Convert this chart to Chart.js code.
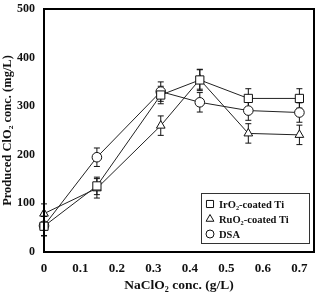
<!DOCTYPE html>
<html>
<head>
<meta charset="utf-8">
<script src="https://cdn.jsdelivr.net/npm/chart.js@4"></script>
<style>
  html, body { margin: 0; padding: 0; background: #fff; }
  #wrap { width: 323px; height: 294px; }
</style>
</head>
<body>
<div id="wrap"><canvas id="chart"></canvas></div>
<script>
// NaClO2 concentration (g/L)
let concs = [0, 0.145, 0.32, 0.427, 0.56, 0.70];

// Produced ClO2 (mg/L) for each electrode
let iro2 = [53, 136, 323, 354, 316, 316];
let ruo2 = [79, 131, 260, 355, 244, 241];
let dsa = [54, 195, 330, 308, 291, 287];

// error bar half-lengths
let iro2Err = [20, 18, 18, 22, 20, 20];
let ruo2Err = [20, 20, 20, 20, 20, 20];
let dsaErr = [20, 19, 20, 20, 20, 20];

let xTicks = [0, 0.1, 0.2, 0.3, 0.4, 0.5, 0.6, 0.7];
let yTicks = [0, 100, 200, 300, 400, 500];

let seriesNames = ['IrO\u2082-coated Ti', 'RuO\u2082-coated Ti', 'DSA'];

const FONT = '"Liberation Serif", "Times New Roman", serif';

function series(label, values, errs, style, radius, legendRadius) {
    return {
        label: label,
        data: values.map((v, i) => ({ x: concs[i], y: v })),
        errors: errs,
        legendRadius: legendRadius,
        borderColor: '#222',
        borderWidth: 1,
        pointStyle: style,
        pointRadius: radius,
        pointBackgroundColor: '#fff',
        pointBorderColor: '#111',
        pointBorderWidth: 1,
        showLine: true,
        clip: false,
        tension: 0
    };
}

// draw vertical error bars with caps
const errorBars = {
    id: 'errorBars',
    beforeDatasetsDraw(chart) {
        const ctx = chart.ctx;
        const y = chart.scales.y;
        ctx.save();
        ctx.strokeStyle = '#111';
        ctx.lineWidth = 1;
        chart.data.datasets.forEach((ds, di) => {
            chart.getDatasetMeta(di).data.forEach((pt, i) => {
                const v = ds.data[i].y, e = ds.errors[i];
                const top = y.getPixelForValue(v + e);
                const bot = y.getPixelForValue(v - e);
                ctx.beginPath();
                ctx.moveTo(pt.x, top); ctx.lineTo(pt.x, bot);
                ctx.moveTo(pt.x - 3, top); ctx.lineTo(pt.x + 3, top);
                ctx.moveTo(pt.x - 3, bot); ctx.lineTo(pt.x + 3, bot);
                ctx.stroke();
            });
        });
        ctx.restore();
    }
};

// frame around plot area and the boxed legend in the lower right
const frameAndLegend = {
    id: 'frameAndLegend',
    afterDraw(chart) {
        const ctx = chart.ctx;
        const a = chart.chartArea;
        ctx.save();
        ctx.strokeStyle = '#000';
        ctx.lineWidth = 2;
        ctx.strokeRect(a.left, a.top, a.right - a.left, a.bottom - a.top);

        // legend box
        const bx = 201, by = 193, bw = 108, bh = 50;
        ctx.lineWidth = 1;
        ctx.strokeStyle = '#333';
        ctx.fillStyle = '#fff';
        ctx.fillRect(bx, by, bw, bh);
        ctx.strokeRect(bx + 0.5, by + 0.5, bw, bh);

        ctx.font = 'bold 10.5px ' + FONT;
        ctx.textBaseline = 'middle';
        ctx.textAlign = 'left';
        chart.data.datasets.forEach((ds, i) => {
            const ry = by + 11 + i * 15;
            ctx.strokeStyle = '#111';
            ctx.fillStyle = '#fff';
            ctx.lineWidth = 1;
            Chart.helpers.drawPoint(ctx, { pointStyle: ds.pointStyle, radius: ds.legendRadius, borderWidth: 1 }, bx + 9, ry);
            ctx.fillStyle = '#111';
            ctx.fillText(seriesNames[i], bx + 18, ry + 1);
        });
        ctx.restore();
    }
};

new Chart(document.getElementById('chart'), {
    type: 'scatter',
    data: {
        datasets: [
            series(seriesNames[0], iro2, iro2Err, 'rect', 5.8, 5),
            series(seriesNames[1], ruo2, ruo2Err, 'triangle', 5, 4.5),
            series(seriesNames[2], dsa, dsaErr, 'circle', 4.8, 4)
        ]
    },
    options: {
        responsive: true,
        maintainAspectRatio: false,
        animation: false,
        layout: { padding: { left: 0, top: 9, right: 9, bottom: 0 } },
        plugins: {
            legend: { display: false },
            tooltip: { enabled: false }
        },
        scales: {
            x: {
                type: 'linear',
                min: 0,
                max: 0.74,
                afterBuildTicks: s => { s.ticks = xTicks.map(v => ({ value: v })); },
                afterFit: s => { s.height = 42; },
                grid: { display: false },
                border: { display: false },
                ticks: {
                    color: '#111',
                    padding: 1,
                    font: { family: FONT, size: 13, weight: 'bold' },
                    callback: v => v === 0 ? '0' : v.toFixed(1)
                },
                title: {
                    display: true,
                    text: 'NaClO\u2082 conc. (g/L)',
                    color: '#111',
                    padding: { top: 0, bottom: 0 },
                    font: { family: FONT, size: 13.5, weight: 'bold' }
                }
            },
            y: {
                min: 0,
                max: 500,
                afterBuildTicks: s => { s.ticks = yTicks.map(v => ({ value: v })); },
                afterFit: s => { s.width = 44; },
                grid: { display: false },
                border: { display: false },
                ticks: {
                    color: '#111',
                    padding: 1,
                    font: { family: FONT, size: 12, weight: 'bold' }
                },
                title: {
                    display: true,
                    text: 'Produced ClO\u2082 conc. (mg/L)',
                    color: '#111',
                    padding: { top: 0, bottom: 0 },
                    font: { family: FONT, size: 12.5, weight: 'bold' }
                }
            }
        }
    },
    plugins: [errorBars, frameAndLegend]
});
</script>
</body>
</html>
